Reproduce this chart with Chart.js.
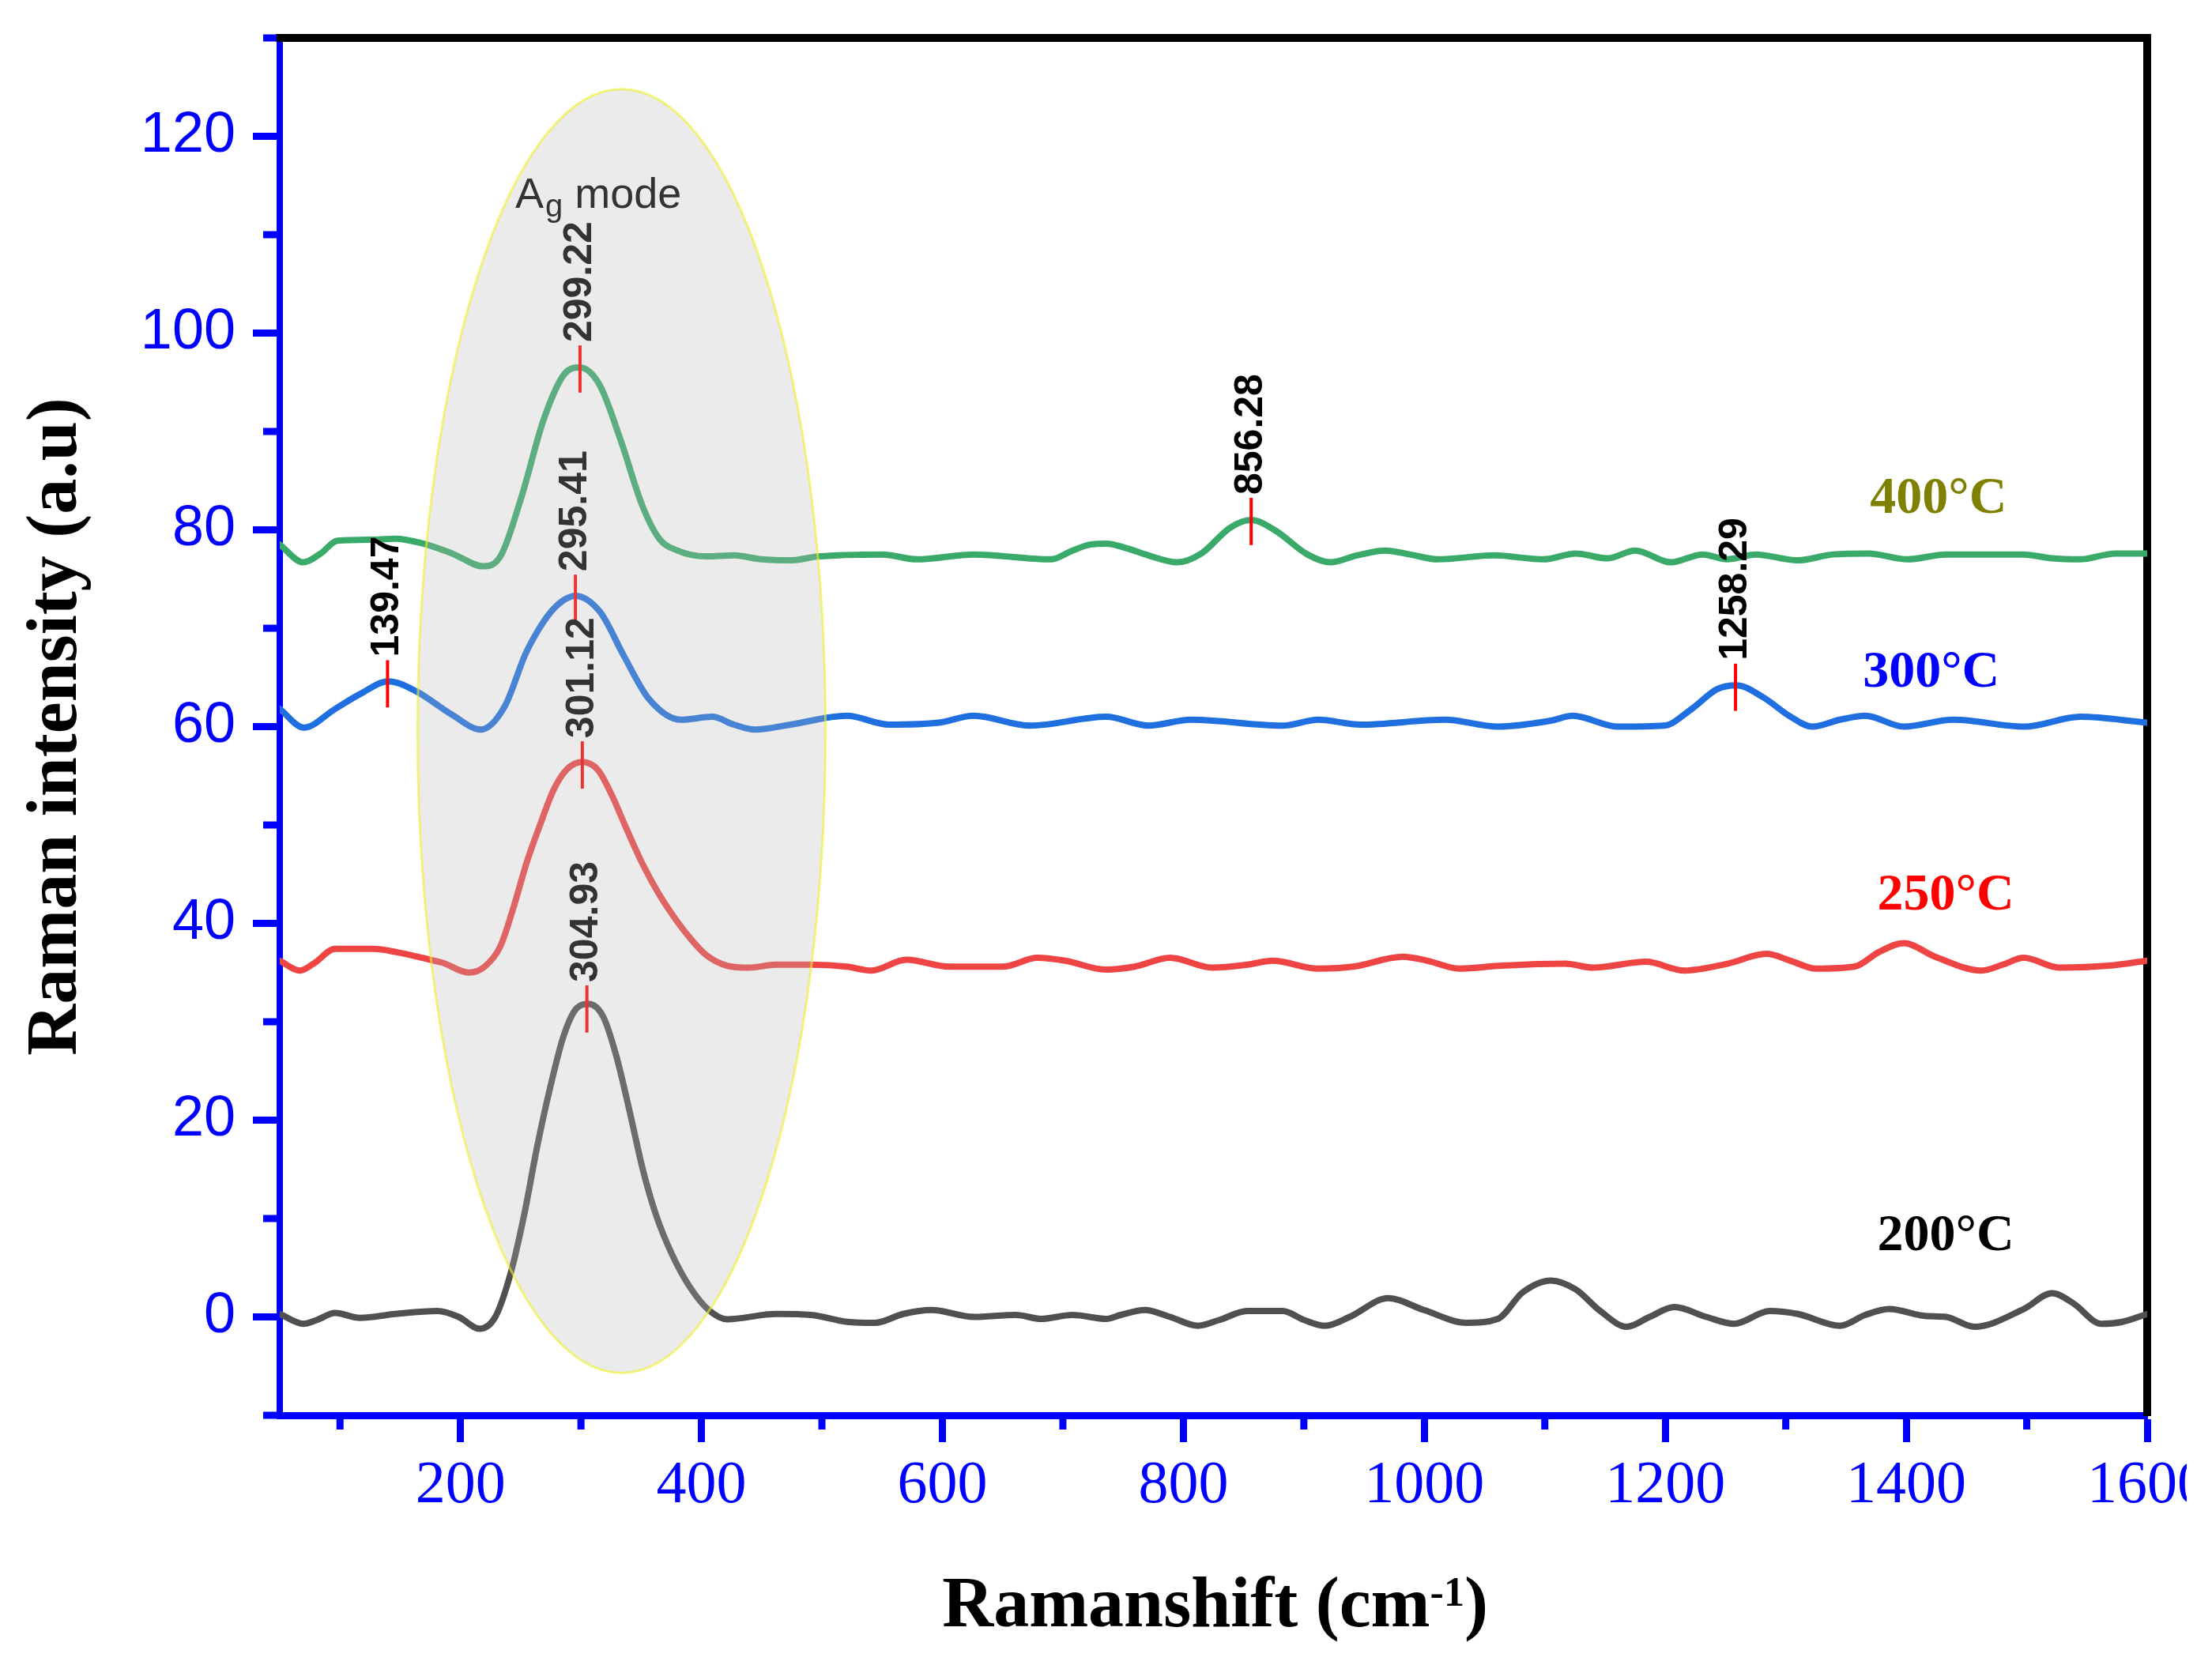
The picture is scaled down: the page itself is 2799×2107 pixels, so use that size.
<!DOCTYPE html>
<html>
<head>
<meta charset="utf-8">
<script src="https://cdn.jsdelivr.net/npm/chart.js@4.4.1/dist/chart.umd.min.js"></script>
<style>
  html, body { margin: 0; padding: 0; background: #fff; overflow: hidden; }
  canvas { display: block; }
</style>
</head>
<body>
<canvas id="ramanChart" width="2767" height="2107" style="width:2767px;height:2107px"></canvas>
<script>
// Raman spectra for the four annealing temperatures
const x200 = [50, 69.6, 81, 96, 116.5, 146, 181, 198.5, 215.8, 228.9, 242, 252.9, 263.8, 274.8, 285.7, 296.6, 306.5, 318.5, 329.4, 340.4, 351.3, 362.2, 375.4, 390.6, 406, 421.3, 462, 491, 520.6, 544, 567.5, 591, 626, 661, 682, 708, 736, 748, 768, 789, 812, 830, 853, 882.5, 900, 917.7, 938, 970, 999.7, 1035, 1061, 1081.7, 1105, 1125.6, 1146, 1168, 1187, 1207.6, 1234, 1257, 1286.7, 1310, 1345, 1366, 1386, 1415.5, 1433, 1456.5, 1497.5, 1521, 1538.5, 1562, 1579.5, 1600];
const y200 = [0.3, -0.7, -0.3, 0.4, -0.1, 0.3, 0.6, 0.0, -1.2, 0.0, 4.6, 10.4, 17.4, 23.5, 28.6, 31.4, 31.8, 30.5, 26.5, 20.9, 15.0, 10.4, 6.4, 3.0, 0.7, -0.24, 0.3, 0.2, -0.5, -0.6, 0.3, 0.7, 0.0, 0.2, -0.2, 0.2, -0.2, 0.2, 0.7, 0.0, -0.9, -0.3, 0.6, 0.6, -0.3, -0.9, 0.0, 1.9, 0.7, -0.6, -0.2, 2.5, 3.7, 2.8, 0.6, -1.0, 0.0, 1.0, 0.0, -0.7, 0.6, 0.3, -0.9, 0.2, 0.8, 0.1, 0.0, -1.0, 0.8, 2.4, 1.4, -0.7, -0.5, 0.3];

const x250 = [50, 66.7, 78, 96, 128, 146, 175, 185.1, 207, 220.1, 233.2, 244.2, 255.1, 266, 277, 287.9, 301, 314.1, 325, 338.2, 351.3, 364.4, 377.5, 390.6, 403.8, 421.3, 440, 462, 491, 520.6, 541, 570, 605.6, 650, 679, 702, 736, 759.5, 789, 824, 853, 874, 912, 941, 982, 1002.6, 1029, 1064, 1117, 1140, 1184, 1216, 1251.5, 1284, 1304, 1325, 1357, 1377.5, 1398, 1424, 1462.5, 1480, 1497.5, 1527, 1568, 1600];
const y250 = [36.2, 35.2, 35.9, 37.4, 37.4, 37.1, 36.3, 36.0, 35.0, 35.6, 37.7, 41.7, 46.25, 50.0, 53.5, 55.6, 56.4, 55.6, 53.2, 49.5, 46.0, 43.05, 40.6, 38.5, 36.8, 35.7, 35.5, 35.8, 35.8, 35.6, 35.2, 36.3, 35.6, 35.6, 36.5, 36.2, 35.3, 35.6, 36.5, 35.5, 35.8, 36.2, 35.4, 35.6, 36.6, 36.2, 35.4, 35.7, 35.9, 35.5, 36.1, 35.2, 35.9, 36.9, 36.2, 35.4, 35.6, 37.1, 38.0, 36.6, 35.2, 35.8, 36.5, 35.5, 35.7, 36.2];

const x300 = [50, 70, 96, 116.5, 140, 163, 193, 217, 236.5, 254, 264, 274.6, 285, 295, 315.6, 336, 356.5, 383, 409, 427, 444.5, 473.8, 520.6, 555.7, 597, 626, 673, 736, 771, 806, 882, 912, 947, 1017, 1061, 1105, 1123, 1161, 1199, 1222, 1243, 1259, 1281, 1304, 1322, 1345, 1366, 1398, 1439, 1498, 1544.5, 1600];
const y300 = [61.8, 59.9, 61.8, 63.3, 64.6, 63.6, 61.2, 59.7, 62.0, 67.4, 69.7, 71.6, 72.8, 73.3, 71.7, 67.1, 62.8, 60.7, 61.0, 60.2, 59.7, 60.2, 61.1, 60.2, 60.4, 61.1, 60.1, 61.0, 60.1, 60.7, 60.1, 60.7, 60.2, 60.7, 60.0, 60.6, 61.1, 60.0, 60.1, 61.8, 63.8, 64.2, 63.0, 61.0, 60.0, 60.7, 61.1, 60.0, 60.7, 60.0, 61.0, 60.4];

const x400 = [50, 69.6, 84, 97.8, 128, 146, 169, 193, 219, 233.6, 251, 269, 286, 299, 315.6, 333, 350.8, 365, 380, 403.5, 427, 450, 473.8, 497, 550, 579, 626, 690, 708, 722.6, 736, 753.7, 771, 794.7, 815, 838.6, 856, 876.7, 903, 922, 944, 967.5, 988, 1011, 1058, 1099, 1125.6, 1152, 1175, 1204.7, 1231, 1251.5, 1275, 1310, 1339, 1368.6, 1401, 1433, 1497.5, 1521, 1544, 1573.7, 1600];
const y400 = [78.5, 76.7, 77.6, 78.9, 79.0, 79.1, 78.6, 77.6, 76.3, 77.4, 83.5, 91.2, 95.8, 96.5, 94.7, 89.1, 82.5, 79.1, 77.9, 77.3, 77.4, 77.0, 76.9, 77.3, 77.5, 77.0, 77.5, 77.0, 77.9, 78.5, 78.6, 78.1, 77.4, 76.7, 77.6, 80.2, 81.0, 79.9, 77.5, 76.7, 77.4, 77.9, 77.5, 77.0, 77.4, 77.0, 77.6, 77.1, 77.9, 76.7, 77.5, 77.0, 77.5, 76.9, 77.5, 77.6, 77.0, 77.5, 77.5, 77.1, 77.0, 77.6, 77.6];

const seriesNames  = ['200°C', '250°C', '300°C', '400°C'];
const seriesColors = ['#505050', '#ef4444', '#1f6fe0', '#3aaa6a'];
const labelColors  = ['#000000', '#ff0000', '#0000ff', '#808000'];
const labelX = [1376, 1376, 1364, 1370];
const labelY = [6.8, 41.4, 64.05, 81.7];

// axis ticks
const xMajorTicks = [200, 400, 600, 800, 1000, 1200, 1400, 1600];
const xMinorTicks = [100, 300, 500, 700, 900, 1100, 1300, 1500];
const yMajorTicks = [0, 20, 40, 60, 80, 100, 120];
const yMinorTicks = [-10, 10, 30, 50, 70, 90, 110, 130];

// peak markers (label = position, tick centred on tickY)
const peakLabels = ['299.22', '295.41', '139.47', '301.12', '304.93', '856.28', '1258.29'];
const peakTickY  = [96.35, 73.05, 64.35, 56.1, 31.3, 80.85, 64.0];
const peakTickHalf = 2.4;

// A_g mode region
const agEllipse = { cx: 333.7, cy: 59.55, rx: 169.3, ry: 65.25 };
const agText = { x: 245.5, y: 112.7 };

const BLUE = '#0000ff';
const SERIF = '"Liberation Serif", "Times New Roman", serif';
const SANS = '"Liberation Sans", Arial, sans-serif';

const datasets = [[x200, y200], [x250, y250], [x300, y300], [x400, y400]].map(([xs, ys], i) => ({
    label: seriesNames[i],
    data: xs.map((v, j) => ({ x: v, y: ys[j] })),
    borderColor: seriesColors[i],
    borderWidth: 8,
    pointRadius: 0,
    tension: 0.4,
    cubicInterpolationMode: 'monotone',
    borderCapStyle: 'round',
    borderJoinStyle: 'round',
    xAxisID: 'x',
    yAxisID: 'y'
}));

const overlayPlugin = {
    id: 'ramanOverlay',
    afterDatasetsDraw(chart) {
        const { ctx, scales: { x, y } } = chart;
        ctx.save();

        // red peak ticks + rotated values
        peakLabels.forEach((txt, i) => {
            const px = x.getPixelForValue(parseFloat(txt));
            const yTop = y.getPixelForValue(peakTickY[i] + peakTickHalf);
            const yBot = y.getPixelForValue(peakTickY[i] - peakTickHalf);
            ctx.strokeStyle = '#ff0000';
            ctx.lineWidth = 4;
            ctx.beginPath();
            ctx.moveTo(px, yTop);
            ctx.lineTo(px, yBot);
            ctx.stroke();

            ctx.save();
            ctx.translate(px, yTop - 4);
            ctx.rotate(-Math.PI / 2);
            ctx.font = 'bold 50px ' + SANS;
            ctx.fillStyle = '#000';
            ctx.textAlign = 'left';
            ctx.textBaseline = 'middle';
            ctx.fillText(txt, 0, 0);
            ctx.restore();
        });

        // temperature labels
        ctx.font = 'bold 66px ' + SERIF;
        ctx.textAlign = 'left';
        ctx.textBaseline = 'alphabetic';
        seriesNames.forEach((name, i) => {
            ctx.fillStyle = labelColors[i];
            ctx.fillText(name, x.getPixelForValue(labelX[i]), y.getPixelForValue(labelY[i]));
        });

        // "Ag mode" with subscript
        let ax = x.getPixelForValue(agText.x);
        const ay = y.getPixelForValue(agText.y);
        ctx.fillStyle = '#000';
        ctx.font = '54px ' + SANS;
        ctx.fillText('A', ax, ay);
        ax += ctx.measureText('A').width + 2;
        ctx.font = '40px ' + SANS;
        ctx.fillText('g', ax, ay + 11);
        ax += ctx.measureText('g').width;
        ctx.font = '54px ' + SANS;
        ctx.fillText(' mode', ax, ay);

        // translucent ellipse on top
        const ecx = x.getPixelForValue(agEllipse.cx);
        const ecy = y.getPixelForValue(agEllipse.cy);
        const erx = Math.abs(x.getPixelForValue(agEllipse.cx + agEllipse.rx) - ecx);
        const ery = Math.abs(y.getPixelForValue(agEllipse.cy + agEllipse.ry) - ecy);
        ctx.beginPath();
        ctx.ellipse(ecx, ecy, erx, ery, 0, 0, Math.PI * 2);
        ctx.fillStyle = 'rgba(183,183,183,0.28)';
        ctx.fill();
        ctx.strokeStyle = 'rgba(240,240,40,0.6)';
        ctx.lineWidth = 3;
        ctx.stroke();

        ctx.restore();
    },
    afterDraw(chart) {
        const { ctx, chartArea, scales: { x, y } } = chart;
        ctx.save();
        ctx.strokeStyle = BLUE;
        ctx.lineWidth = 9;
        ctx.lineCap = 'butt';
        // minor ticks
        yMinorTicks.forEach(v => {
            const py = y.getPixelForValue(v);
            ctx.beginPath();
            ctx.moveTo(chartArea.left - 4, py);
            ctx.lineTo(chartArea.left - 21, py);
            ctx.stroke();
        });
        xMinorTicks.forEach(v => {
            const px = x.getPixelForValue(v);
            ctx.beginPath();
            ctx.moveTo(px, chartArea.bottom + 4);
            ctx.lineTo(px, chartArea.bottom + 18);
            ctx.stroke();
        });

        // x title with superscript
        const main = 'Ramanshift (cm', sup = '-1', close = ')';
        ctx.fillStyle = '#000';
        ctx.textBaseline = 'alphabetic';
        ctx.textAlign = 'left';
        ctx.font = 'bold 90px ' + SERIF;
        const w1 = ctx.measureText(main).width;
        const w3 = ctx.measureText(close).width;
        ctx.font = 'bold 52px ' + SERIF;
        const w2 = ctx.measureText(sup).width;
        let tx = (chartArea.left + chartArea.right) / 2 + 2 - (w1 + w2 + w3) / 2;
        const base = chart.height - 49;
        ctx.font = 'bold 90px ' + SERIF;
        ctx.fillText(main, tx, base);
        tx += w1;
        ctx.font = 'bold 52px ' + SERIF;
        ctx.fillText(sup, tx, base - 26);
        tx += w2;
        ctx.font = 'bold 90px ' + SERIF;
        ctx.fillText(close, tx, base);
        ctx.restore();
    }
};

new Chart(document.getElementById('ramanChart'), {
    type: 'line',
    data: { datasets },
    plugins: [overlayPlugin],
    options: {
        responsive: false,
        animation: false,
        devicePixelRatio: 1,
        layout: { padding: { left: 0, top: 48, right: 50, bottom: 0 } },
        plugins: { legend: { display: false }, tooltip: { enabled: false } },
        scales: {
            x: {
                type: 'linear',
                position: 'bottom',
                min: 50,
                max: 1600,
                afterBuildTicks: s => { s.ticks = xMajorTicks.map(v => ({ value: v })); },
                afterFit: s => { s.height = 316; s.paddingLeft = 0; s.paddingRight = 0; },
                grid: { display: true, drawOnChartArea: false, drawTicks: true, tickLength: 34, tickWidth: 9, tickColor: BLUE },
                border: { display: true, color: BLUE, width: 9 },
                ticks: {
                    color: BLUE,
                    padding: 10,
                    maxRotation: 0,
                    autoSkip: false,
                    font: { family: SERIF, size: 76 },
                    callback: v => String(v)
                }
            },
            y: {
                type: 'linear',
                position: 'left',
                min: -10,
                max: 130,
                afterBuildTicks: s => { s.ticks = yMajorTicks.map(v => ({ value: v })); },
                afterFit: s => { s.width = 354; s.paddingTop = 0; s.paddingBottom = 0; },
                grid: { display: true, drawOnChartArea: false, drawTicks: true, tickLength: 34, tickWidth: 9, tickColor: BLUE },
                border: { display: true, color: BLUE, width: 8 },
                ticks: {
                    color: BLUE,
                    padding: 22,
                    autoSkip: false,
                    font: { family: SANS, size: 72 },
                    callback: v => String(v)
                },
                title: {
                    display: true,
                    text: 'Raman intensity (a.u)',
                    color: '#000',
                    padding: { top: 19, bottom: 0 },
                    font: { family: SERIF, size: 90, weight: 'bold', lineHeight: 1.2 }
                }
            },
            xTop: {
                type: 'linear',
                position: 'top',
                min: 50,
                max: 1600,
                afterFit: s => { s.height = 0; s.paddingLeft = 0; s.paddingRight = 0; },
                grid: { display: false, drawTicks: false },
                border: { display: true, color: '#000', width: 10 },
                ticks: { display: false }
            },
            yRight: {
                type: 'linear',
                position: 'right',
                min: -10,
                max: 130,
                afterFit: s => { s.width = 0; s.paddingTop = 0; s.paddingBottom = 0; },
                grid: { display: false, drawTicks: false },
                border: { display: true, color: '#000', width: 10 },
                ticks: { display: false }
            }
        }
    }
});
</script>
</body>
</html>
